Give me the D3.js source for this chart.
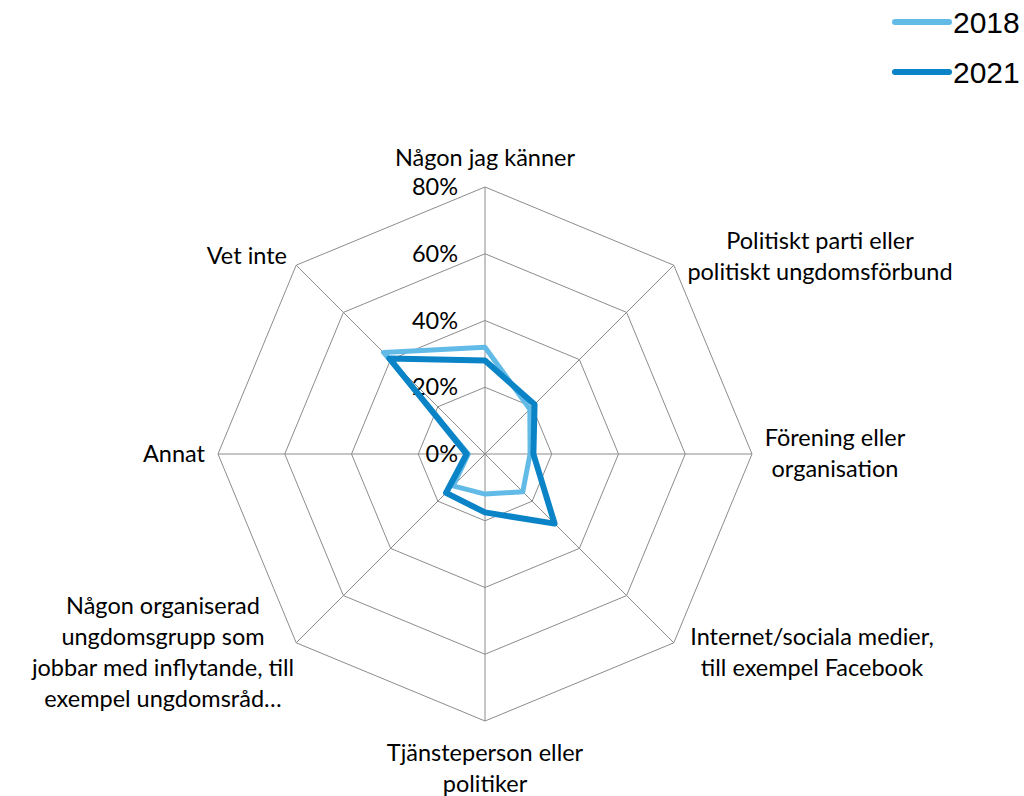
<!DOCTYPE html>
<html>
<head>
<meta charset="utf-8">
<script src="https://cdn.jsdelivr.net/npm/d3@7"></script>
<style>
  html, body { margin: 0; padding: 0; background: #fff; }
  svg { display: block; }
</style>
</head>
<body>
<svg id="chart" width="1024" height="796"></svg>
<script>
// Axis categories, clockwise from the top
const categories = [
  ["Någon jag känner"],
  ["Politiskt parti eller", "politiskt ungdomsförbund"],
  ["Förening eller", "organisation"],
  ["Internet/sociala medier,", "till exempel Facebook"],
  ["Tjänsteperson eller", "politiker"],
  ["Någon organiserad", "ungdomsgrupp som", "jobbar med inflytande, till", "exempel ungdomsråd…"],
  ["Annat"],
  ["Vet inte"]
];
const seriesNames = ["2018", "2021"];
const values2018 = [0.32, 0.19, 0.135, 0.16, 0.12, 0.135, 0.05, 0.43];
const values2021 = [0.28, 0.21, 0.145, 0.295, 0.175, 0.165, 0.055, 0.405];
const tickValues = [0, 0.2, 0.4, 0.6, 0.8];
const tickLabels = ["0%", "20%", "40%", "60%", "80%"];

const colors = { "2018": "#62bbe7", "2021": "#0a84c6" };
const widths = { "2018": 5, "2021": 6 };

const svg = d3.select("#chart");
const cx = 485, cy = 454, R = 267;
const labelFont = "Lato, 'Open Sans', sans-serif";
const labelSize = 23.5;

const r = d3.scaleLinear().domain([0, 0.8]).range([0, R]);
const angle = d3.scalePoint().domain(d3.range(categories.length)).range([0, 2 * Math.PI * (categories.length - 1) / categories.length]);

const g = svg.append("g").attr("transform", `translate(${cx},${cy})`);

const pt = (i, v) => {
  const a = angle(i);
  return [r(v) * Math.sin(a), -r(v) * Math.cos(a)];
};

// grid rings
tickValues.filter(t => t > 0).forEach(t => {
  g.append("path")
    .attr("d", d3.line()(categories.map((_, i) => pt(i, t))) + "Z")
    .attr("fill", "none").attr("stroke", "#8c8c8c").attr("stroke-width", 1);
});
// spokes
categories.forEach((_, i) => {
  const [x, y] = pt(i, 0.8);
  g.append("line").attr("x1", 0).attr("y1", 0).attr("x2", x).attr("y2", y)
    .attr("stroke", "#8c8c8c").attr("stroke-width", 1);
});

// tick labels
tickValues.forEach((t, k) => {
  g.append("text")
    .attr("x", -27).attr("y", -r(t))
    .attr("dy", "0.35em")
    .attr("text-anchor", "end")
    .attr("font-family", labelFont).attr("font-size", labelSize).attr("fill", "#000")
    .text(tickLabels[k]);
});

// series polygons
const data = { "2018": values2018, "2021": values2021 };
seriesNames.forEach(name => {
  g.append("path")
    .attr("d", d3.line()(data[name].map((v, i) => pt(i, v))) + "Z")
    .attr("fill", "none")
    .attr("stroke", colors[name])
    .attr("stroke-width", widths[name])
    .attr("stroke-linejoin", "round");
});

// category labels
const labelPos = [
  { x: 0, y: -296, anchor: "middle" },
  { x: 335, y: -213, anchor: "middle" },
  { x: 350, y: -16, anchor: "middle" },
  { x: 327, y: 183, anchor: "middle" },
  { x: 0, y: 299, anchor: "middle" },
  { x: -322, y: 152, anchor: "middle" },
  { x: -280, y: 0, anchor: "end" },
  { x: -198, y: -198, anchor: "end" }
];
const lineH = 31;
categories.forEach((lines, i) => {
  const p = labelPos[i];
  const t = g.append("text")
    .attr("text-anchor", p.anchor)
    .attr("font-family", labelFont).attr("font-size", labelSize).attr("fill", "#000");
  lines.forEach((ln, j) => {
    t.append("tspan").attr("x", p.x).attr("y", p.y + j * lineH).attr("dy", "0.35em").text(ln);
  });
});

// legend
const legend = svg.append("g");
seriesNames.forEach((name, k) => {
  const y = 22 + k * 50;
  legend.append("line").attr("x1", 895).attr("x2", 949).attr("y1", y).attr("y2", y)
    .attr("stroke", colors[name]).attr("stroke-width", 6).attr("stroke-linecap", "round");
  legend.append("text").attr("x", 953).attr("y", y).attr("dy", "0.36em")
    .attr("font-family", "'Liberation Sans', Arial, sans-serif").attr("font-size", 30).attr("fill", "#000")
    .text(name);
});
</script>
</body>
</html>
